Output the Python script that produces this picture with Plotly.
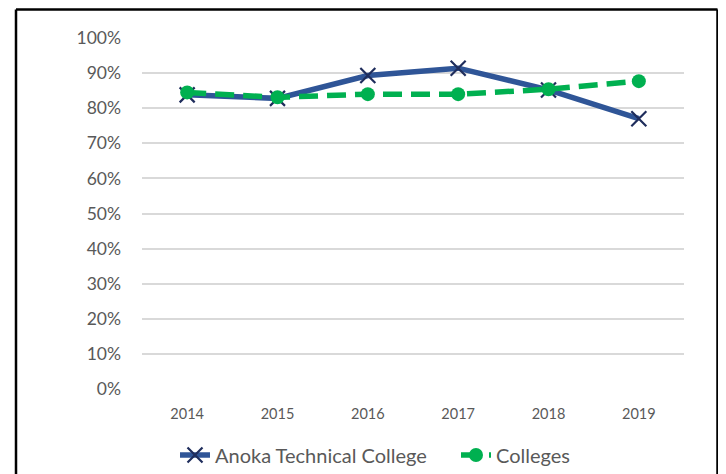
import plotly.graph_objects as go

years = ["2014", "2015", "2016", "2017", "2018", "2019"]
anoka = [0.838, 0.828, 0.893, 0.914, 0.852, 0.770]
colleges = [0.845, 0.831, 0.840, 0.840, 0.854, 0.877]
y_ticks = [i / 10 for i in range(11)]
y_tick_labels = [f"{i*10}%" for i in range(11)]

FONT = "Lato, 'Open Sans', sans-serif"
TXT = "#595959"

fig = go.Figure()
fig.add_trace(go.Scatter(
    x=years, y=anoka, name="Anoka Technical College", mode="lines+markers",
    line=dict(color="#2f5597", width=5.5),
    marker=dict(symbol="x-thin", size=15, line=dict(color="#1f2d5c", width=2.2), color="#1f2d5c"),
    legend="legend",
))
fig.add_trace(go.Scatter(
    x=years, y=colleges, name="Colleges", mode="lines+markers",
    line=dict(color="#00b050", width=5.5, dash="19px,9px"),
    marker=dict(symbol="circle", size=14, color="#00b050"),
    legend="legend2",
))

# page has an 8px body margin; figure coordinates = page coordinates - 8
OFF = 8
W, H = 726 - OFF, 474 - OFF
L, R, T, B = 142 - OFF, 684 - OFF, 38 - OFF, 389 - OFF
def px_x(p):
    return (p - OFF - L) / (R - L)
def px_y(p):
    return (B - (p - OFF)) / (B - T)

frame = dict(color="black", width=2.5)
fig.add_shape(type="line", xref="paper", yref="paper", x0=px_x(16), x1=px_x(16), y0=px_y(9.5), y1=px_y(490), line=frame)
fig.add_shape(type="line", xref="paper", yref="paper", x0=px_x(16), x1=px_x(717.5), y0=px_y(9.5), y1=px_y(9.5), line=frame)
fig.add_shape(type="line", xref="paper", yref="paper", x0=px_x(717.5), x1=px_x(717.5), y0=px_y(9.5), y1=px_y(490), line=frame)

leg_common = dict(orientation="h", yanchor="middle", y=px_y(455), xanchor="left",
                  font=dict(size=20, color=TXT, family=FONT), bgcolor="rgba(0,0,0,0)")
fig.update_layout(
    width=W, height=H,
    margin=dict(l=L, r=W - R, t=T, b=H - B, autoexpand=False),
    paper_bgcolor="white", plot_bgcolor="white",
    font=dict(family=FONT, color=TXT),
    showlegend=True,
    legend=dict(x=px_x(175), **leg_common),
    legend2=dict(x=px_x(456), **leg_common),
)
fig.update_xaxes(
    type="category", showgrid=False, showline=False, zeroline=False,
    tickfont=dict(size=14.5, color=TXT), ticks="", ticklabelstandoff=14,
    range=[-0.5, 5.5],
)
fig.update_yaxes(
    range=[0, 1.0], tickvals=y_ticks, ticktext=y_tick_labels,
    showgrid=True, gridcolor="#d9d9d9", gridwidth=1.5, zeroline=False, showline=False,
    tickfont=dict(size=17.5, color=TXT), ticks="", ticklabelstandoff=20,
)
fig.write_html("out.html")
